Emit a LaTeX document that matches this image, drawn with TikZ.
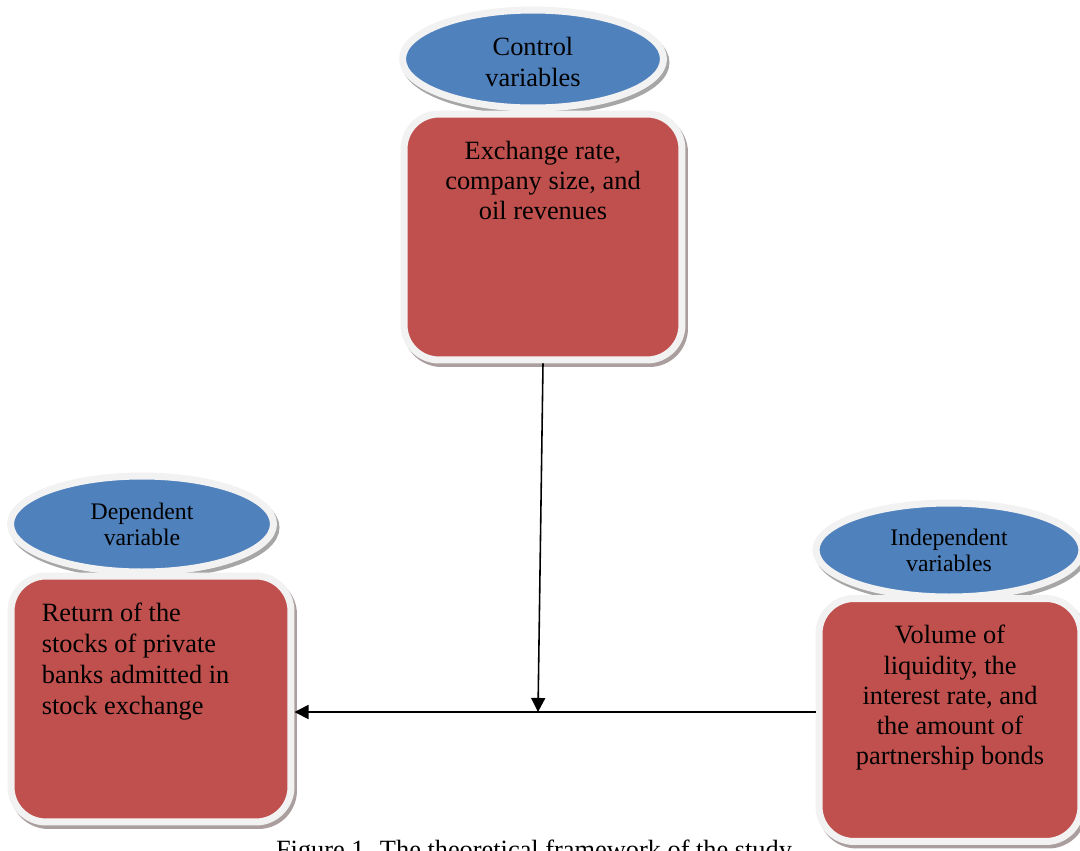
\documentclass[tikz,border=0pt]{standalone}
\usepackage{fontspec}
\setmainfont{Liberation Serif}
\usepackage{xcolor}
\definecolor{xblue}{HTML}{4F81BD}
\definecolor{xred}{HTML}{C0504D}
\definecolor{xrim}{HTML}{F2F2F2}
\definecolor{xshade}{HTML}{AB9E9E}
\definecolor{xshadeb}{HTML}{A6A6A6}
\usetikzlibrary{positioning, shapes.geometric, shadows, arrows.meta}
\tikzset{
  %% Styles %%
  varoval/.style = {
    ellipse, draw=xrim, line width=0.14cm, fill=xblue, inner sep=0pt,
    drop shadow={shadow xshift=0.05cm, shadow yshift=-0.07cm, opacity=1,
      fill=xshadeb, draw=xshadeb, line width=0.14cm},
    align=center, font=\fontsize{15}{18}\selectfont,
  },
  ovalsmall/.style = {font=\fontsize{13.5}{14.8}\selectfont},
  varbox/.style = {
    rectangle, rounded corners=0.7cm, draw=xrim, line width=0.14cm, fill=xred,
    drop shadow={shadow xshift=0.05cm, shadow yshift=-0.07cm, opacity=1,
      fill=xshade, draw=xshade, line width=0.14cm},
  },
  boxtext/.style = {align=center, inner sep=0pt, font=\fontsize{15}{17.2}\selectfont},
  link/.style = {-{Triangle[length=8pt, width=8pt]}, line width=0.9pt},
}

\begin{document}
\begin{tikzpicture}[x=0.02cm, y=-0.02cm]
  \useasboundingbox (0,0) rectangle (1080,850);
  \clip (0,0) rectangle (1080,850);

  % ovals
  \node[varoval, minimum width=5.22cm, minimum height=1.96cm] (ctrloval) at (533,59) {};
  \node[varoval, ovalsmall, minimum width=5.26cm, minimum height=1.92cm] (depoval) at (142,524) {Dependent\\variable};
  \node[varoval, ovalsmall, minimum width=5.32cm, minimum height=1.88cm] (indoval) at (949,550) {Independent\\variables};
  \node[align=center, inner sep=0pt, font=\fontsize{15}{18}\selectfont] (ctrllabel) at ([yshift=-0.06cm]ctrloval.center) {Control\\variables};

  % boxes
  \node[varbox, minimum width=5.56cm, minimum height=4.92cm] (ctrlbox) at (543,237) {};
  \node[varbox, minimum width=5.6cm, minimum height=4.92cm] (depbox) at (151,699) {};
  \node[varbox, minimum width=5.24cm, minimum height=4.86cm] (indbox) at (950,720) {};

  % texts
  \node[boxtext, below=0.6cm of ctrlbox.north] (ctrltext) {Exchange rate,\\company size, and\\oil revenues};
  \node[boxtext, align=left, font=\fontsize{15}{17.7}\selectfont,
        below right=0.6cm and 0.68cm of depbox.north west] (deptext)
        {Return of the\\stocks of private\\banks admitted in\\stock exchange};
  \node[boxtext, below=0.6cm of indbox.north] (indtext)
        {Volume of\\liquidity, the\\interest rate, and\\the amount of\\partnership bonds};

  % connectors
  \coordinate (meet) at (538,712);
  \draw[link] (ctrlbox.south) -- (meet);
  \draw[link] (indbox.west |- meet) -- (depbox.east |- meet);

  % caption
  \node[font=\fontsize{15}{17}\selectfont, anchor=base] (caption) at (534,858) {Figure 1. The theoretical framework of the study};
\end{tikzpicture}
\end{document}
